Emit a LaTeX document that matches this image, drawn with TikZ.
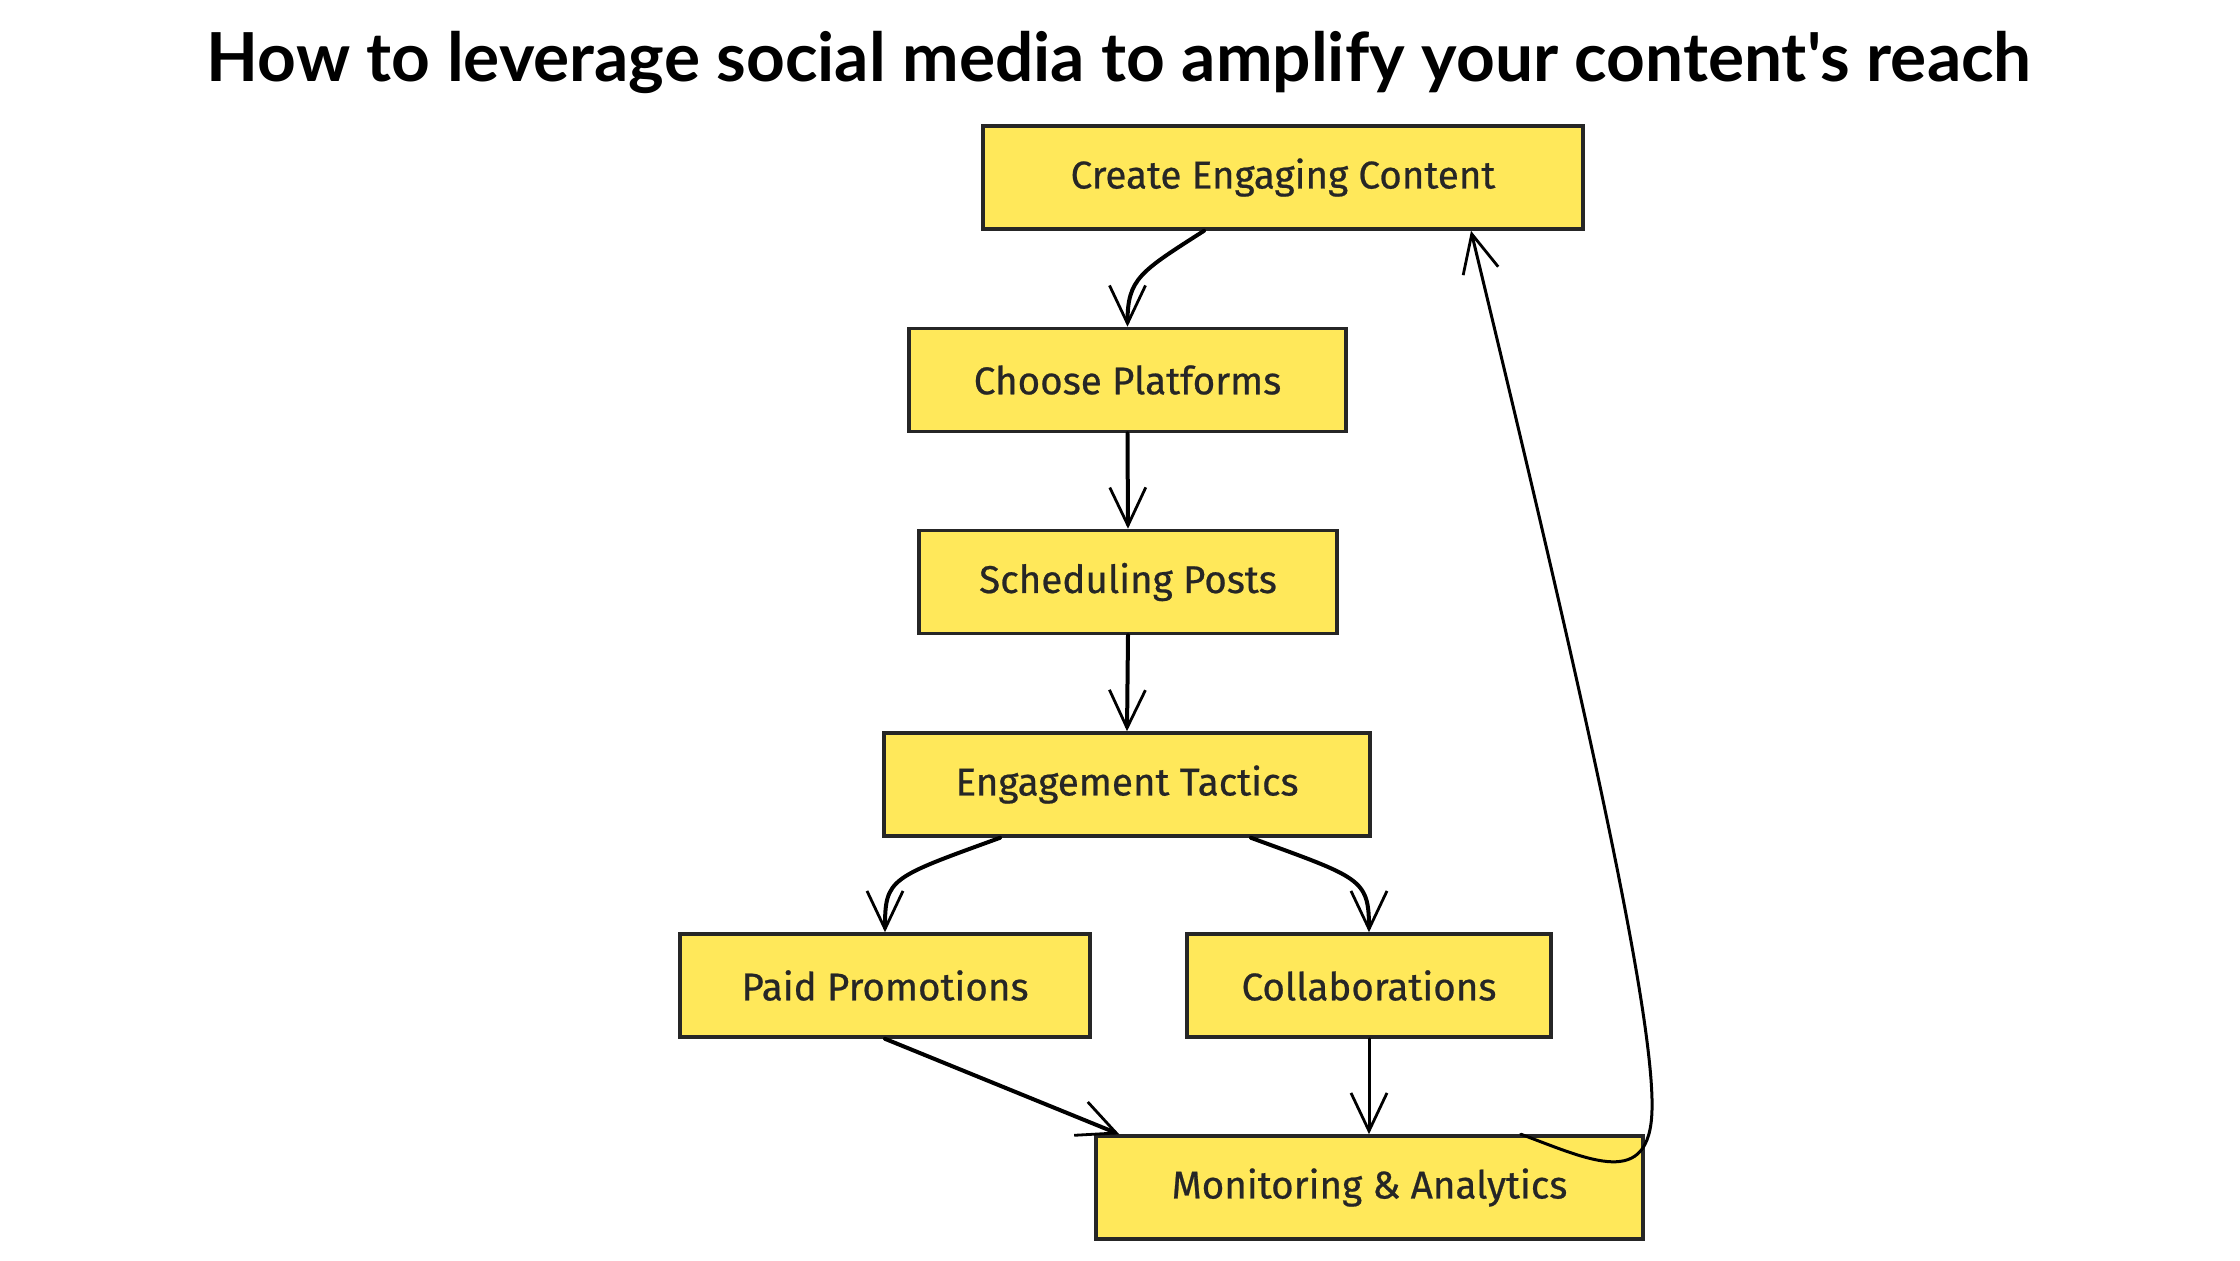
\documentclass[tikz,border=0pt]{standalone}
\usepackage{fontspec}
\setmainfont{Fira Sans}[FakeBold=0.6]
\newfontfamily\titlefont{Lato}
\usetikzlibrary{arrows.meta}
\definecolor{boxyellow}{HTML}{FFE85A}
\definecolor{ink}{HTML}{262626}
\begin{document}
\begin{tikzpicture}[x=0.5pt,y=-0.5pt,
  stepbox/.style={draw=ink, line width=1.8pt, fill=boxyellow, text=ink,
    font=\fontsize{19.3}{22}\selectfont, minimum height=51.5pt, inner sep=0pt},
  flow/.style={draw=black, line width=2pt, line cap=round,
    -{Straight Barb[length=19pt,width=18pt,line width=1.4pt]}},
  thinflow/.style={flow, line width=1.5pt}
]
\useasboundingbox (0,0) rectangle (2240,1260);
\node[font=\titlefont\bfseries\fontsize{33.8}{40}\selectfont] (title) at (1119,62) {How to leverage social media to amplify your content's reach};

\node[stepbox, minimum width=300pt] (create) at (1283,177.5) {Create Engaging Content};
\node[stepbox, minimum width=218.5pt] (choose) at (1127.5,380) {Choose Platforms};
\node[stepbox, minimum width=209pt] (sched) at (1128,582) {Scheduling Posts};
\node[stepbox, minimum width=243pt] (engage) at (1127,784.5) {Engagement Tactics};
\node[stepbox, minimum width=205pt] (paid) at (885,985.5) {Paid Promotions};
\node[stepbox, minimum width=182pt] (collab) at (1369,985.5) {Collaborations};
\node[stepbox, minimum width=273.5pt] (monitor) at (1369.5,1187.5) {Monitoring \& Analytics};

\draw[flow] ([xshift=-39.5pt]create.south) .. controls ([xshift=-71.5pt,yshift=-20.5pt]create.south) and ([yshift=24pt]choose.north) .. (choose.north);
\draw[flow] (choose.south) -- (sched.north);
\draw[flow] (sched.south) -- (engage.north);
\draw[flow] ([xshift=-63.5pt]engage.south) .. controls ([xshift=-118.5pt,yshift=-20pt]engage.south) and ([yshift=27pt]paid.north) .. (paid.north);
\draw[flow] ([xshift=62pt]engage.south) .. controls ([xshift=116.5pt,yshift=-20pt]engage.south) and ([yshift=27pt]collab.north) .. (collab.north);
\draw[flow] (paid.south) -- ([xshift=12.5pt]monitor.north west);
\draw[thinflow] (collab.south) -- (collab.south |- monitor.north);
\draw[thinflow] ([xshift=-62pt]monitor.north east) .. controls (1590,1160) and (1650,1190) .. (1652,1110) .. controls (1655,1000) and (1560,600) .. ([xshift=94pt]create.south);
\end{tikzpicture}
\end{document}
